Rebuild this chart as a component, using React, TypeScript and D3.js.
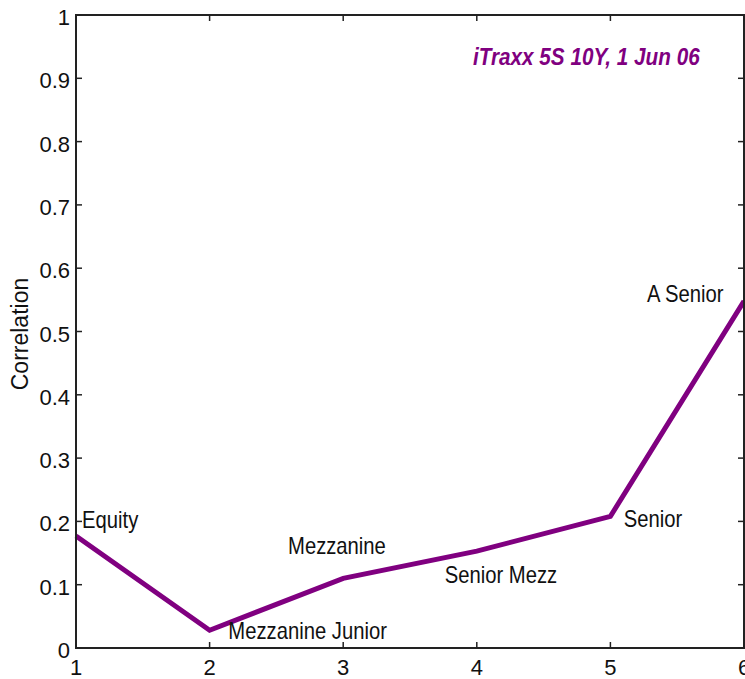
import React from "react";
import * as d3 from "d3";

const tranches = [1, 2, 3, 4, 5, 6];
const correlation = [0.177, 0.028, 0.11, 0.153, 0.208, 0.548];
const trancheLabels = ["Equity", "Mezzanine Junior", "Mezzanine", "Senior Mezz", "Senior", "A Senior"];
const labelAnchorX = [1.045, 2.14, 2.587, 3.76, 5.1, 5.274];
const labelAnchorY = [0.19, 0.014, 0.148, 0.103, 0.191, 0.547];
const xTicks = [1, 2, 3, 4, 5, 6];
const yTicks = [0, 0.1, 0.2, 0.3, 0.4, 0.5, 0.6, 0.7, 0.8, 0.9, 1];
const title = "iTraxx 5S 10Y, 1 Jun 06";

export default function App() {
  const W = 745, H = 679;
  const left = 76, right = 744, top = 15, bottom = 648;
  const x = d3.scaleLinear().domain([1, 6]).range([left, right]);
  const y = d3.scaleLinear().domain([0, 1]).range([bottom, top]);
  const line = d3.line<number>().x((_, i) => x(tranches[i])).y((d) => y(d));
  const font = "Liberation Sans, Arial, sans-serif";
  const tl = 6;
  return (
    <svg width={W} height={H} style={{ position: "absolute", left: 0, top: 0 }}>
      <rect x={0} y={0} width={W} height={H} fill="#fff" />
      <path d={line(correlation) || ""} fill="none" stroke="#800080" strokeWidth={5} strokeLinejoin="miter" />
      <rect x={left} y={top} width={right - left} height={bottom - top} fill="none" stroke="#222" strokeWidth={2} />
      {xTicks.map((t) => (
        <g key={"x" + t}>
          <line x1={x(t)} x2={x(t)} y1={bottom} y2={bottom - tl} stroke="#222" strokeWidth={1.5} />
          <line x1={x(t)} x2={x(t)} y1={top} y2={top + tl} stroke="#222" strokeWidth={1.5} />
          <text x={x(t)} y={bottom + 27} textAnchor="middle" fontFamily={font} fontSize={22} fill="#111">{t}</text>
        </g>
      ))}
      {yTicks.map((t) => (
        <g key={"y" + t}>
          <line x1={left} x2={left + tl} y1={y(t)} y2={y(t)} stroke="#222" strokeWidth={1.5} />
          <line x1={right} x2={right - tl} y1={y(t)} y2={y(t)} stroke="#222" strokeWidth={1.5} />
          <text x={left - 6} y={y(t) + 10} textAnchor="end" fontFamily={font} fontSize={22} fill="#111">{t}</text>
        </g>
      ))}
      <text transform={`translate(28,334) rotate(-90)`} textAnchor="middle" fontFamily={font} fontSize={23} fill="#111">Correlation</text>
      <text transform="translate(473,65) scale(0.9,1)" fontFamily={font} fontSize={23} fontWeight="bold" fontStyle="italic" fill="#800080">{title}</text>
      {trancheLabels.map((s, i) => (
        <text key={s} transform={`translate(${x(labelAnchorX[i])},${y(labelAnchorY[i])}) scale(0.88,1)`} fontFamily={font} fontSize={23} fill="#111">{s}</text>
      ))}
    </svg>
  );
}
